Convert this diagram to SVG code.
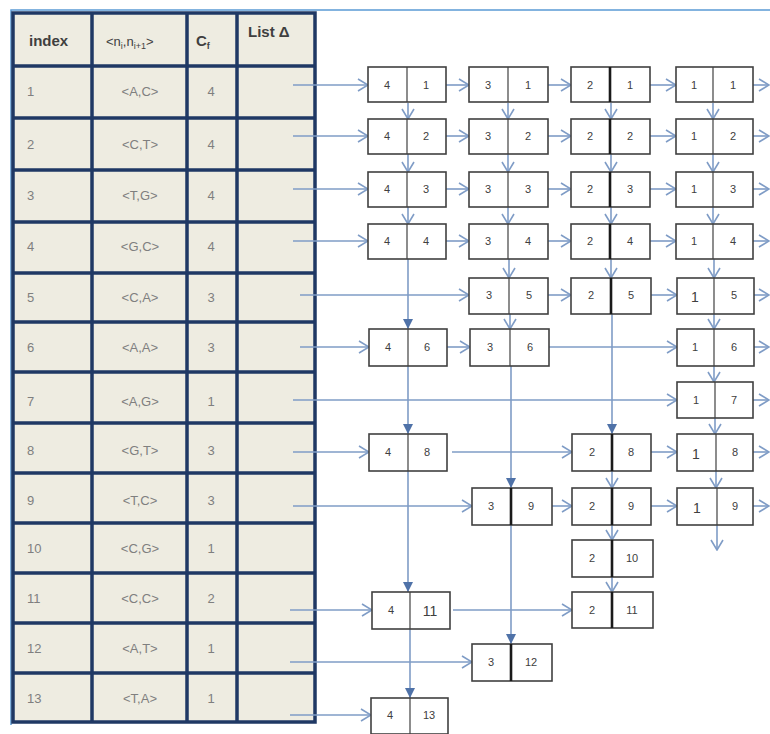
<svg xmlns="http://www.w3.org/2000/svg" width="770" height="734" viewBox="0 0 770 734">
<style>
.cell{fill:#eeece1;}
.grid{stroke:#1f3864;stroke-width:3.5;fill:none;}
.frame{stroke:#5b9bd5;stroke-width:1.5;fill:none;}
.hd{font-family:"Liberation Sans",Arial,sans-serif;font-size:15px;font-weight:bold;fill:#3f3f3f;}
.tx{font-family:"Liberation Sans",Arial,sans-serif;font-size:13px;fill:#7f7f7f;}
.bx{fill:#ffffff;stroke:#404040;stroke-width:1.6;}
.dv{stroke:#404040;stroke-width:1.2;}
.dvk{stroke:#1a1a1a;stroke-width:2.6;}
.bt{font-family:"Liberation Sans",Arial,sans-serif;font-size:11px;fill:#404040;text-anchor:middle;}
.bb{font-family:"Liberation Sans",Arial,sans-serif;font-size:14px;fill:#404040;text-anchor:middle;}
.c{stroke:#7f9cc6;stroke-width:1.6;fill:none;}
.o{marker-end:url(#ao);}
.f{marker-end:url(#af);}
</style>
<defs>
<marker id="ao" viewBox="0 0 12 14" refX="11" refY="7" markerWidth="12" markerHeight="14" markerUnits="userSpaceOnUse" orient="auto">
<path d="M1,1 L11,7 L1,13" fill="none" stroke="#7f9cc6" stroke-width="1.6"/>
</marker>
<marker id="af" viewBox="0 0 10 10" refX="10" refY="5" markerWidth="10" markerHeight="10" markerUnits="userSpaceOnUse" orient="auto">
<path d="M0,0 L10,5 L0,10 Z" fill="#4f72a8"/>
</marker>
</defs>
<rect width="770" height="734" fill="#ffffff"/>
<path class="frame" d="M11,725 L11,10 L770,10"/>
<g id="table">
<rect class="cell" x="13" y="13" width="302" height="709"/>
<g class="grid">
<rect x="13" y="13" width="302" height="709"/>
<path d="M92,13V722M187,13V722M237,13V722"/>
<path d="M13,66H315M13,118H315M13,170H315M13,222H315M13,273H315M13,322H315M13,372H315M13,423H315M13,473H315M13,523H315M13,573H315M13,623H315M13,673H315"/>
</g>
<g id="header">
<text class="hd" x="29" y="46">index</text>
<text class="hd" x="106" y="46" style="font-size:13px;font-weight:normal;fill:#3f3f3f">&lt;n<tspan dy="3" font-size="9">i</tspan><tspan dy="-3">,n</tspan><tspan dy="3" font-size="9">i+1</tspan><tspan dy="-3">&gt;</tspan></text>
<text class="hd" x="196" y="46">C<tspan dy="3" font-size="9">f</tspan></text>
<text class="hd" x="248" y="37">List Δ</text>
</g>
<g id="row1"><text class="tx" x="27" y="96">1</text><text class="tx" x="140" y="96" text-anchor="middle">&lt;A,C&gt;</text><text class="tx" x="211" y="96" text-anchor="middle">4</text></g>
<g id="row2"><text class="tx" x="27" y="149">2</text><text class="tx" x="140" y="149" text-anchor="middle">&lt;C,T&gt;</text><text class="tx" x="211" y="149" text-anchor="middle">4</text></g>
<g id="row3"><text class="tx" x="27" y="200">3</text><text class="tx" x="140" y="200" text-anchor="middle">&lt;T,G&gt;</text><text class="tx" x="211" y="200" text-anchor="middle">4</text></g>
<g id="row4"><text class="tx" x="27" y="251">4</text><text class="tx" x="140" y="251" text-anchor="middle">&lt;G,C&gt;</text><text class="tx" x="211" y="251" text-anchor="middle">4</text></g>
<g id="row5"><text class="tx" x="27" y="302">5</text><text class="tx" x="140" y="302" text-anchor="middle">&lt;C,A&gt;</text><text class="tx" x="211" y="302" text-anchor="middle">3</text></g>
<g id="row6"><text class="tx" x="27" y="352">6</text><text class="tx" x="140" y="352" text-anchor="middle">&lt;A,A&gt;</text><text class="tx" x="211" y="352" text-anchor="middle">3</text></g>
<g id="row7"><text class="tx" x="27" y="406">7</text><text class="tx" x="140" y="406" text-anchor="middle">&lt;A,G&gt;</text><text class="tx" x="211" y="406" text-anchor="middle">1</text></g>
<g id="row8"><text class="tx" x="27" y="455">8</text><text class="tx" x="140" y="455" text-anchor="middle">&lt;G,T&gt;</text><text class="tx" x="211" y="455" text-anchor="middle">3</text></g>
<g id="row9"><text class="tx" x="27" y="505">9</text><text class="tx" x="140" y="505" text-anchor="middle">&lt;T,C&gt;</text><text class="tx" x="211" y="505" text-anchor="middle">3</text></g>
<g id="row10"><text class="tx" x="27" y="553">10</text><text class="tx" x="140" y="553" text-anchor="middle">&lt;C,G&gt;</text><text class="tx" x="211" y="553" text-anchor="middle">1</text></g>
<g id="row11"><text class="tx" x="27" y="603">11</text><text class="tx" x="140" y="603" text-anchor="middle">&lt;C,C&gt;</text><text class="tx" x="211" y="603" text-anchor="middle">2</text></g>
<g id="row12"><text class="tx" x="27" y="653">12</text><text class="tx" x="140" y="653" text-anchor="middle">&lt;A,T&gt;</text><text class="tx" x="211" y="653" text-anchor="middle">1</text></g>
<g id="row13"><text class="tx" x="27" y="703">13</text><text class="tx" x="140" y="703" text-anchor="middle">&lt;T,A&gt;</text><text class="tx" x="211" y="703" text-anchor="middle">1</text></g>
</g>
<g id="connectors">
<path class="c o" d="M293,85H368"/>
<path class="c o" d="M293,136H368"/>
<path class="c o" d="M293,189H368"/>
<path class="c o" d="M293,241H368"/>
<path class="c o" d="M300,295H469"/>
<path class="c o" d="M300,347H369"/>
<path class="c o" d="M293,400H677"/>
<path class="c o" d="M293,452H369"/>
<path class="c o" d="M293,506H472"/>
<path class="c o" d="M290,610H372"/>
<path class="c o" d="M290,662H472"/>
<path class="c o" d="M290,715H371"/>
<path class="c o" d="M446,85H469"/><path class="c o" d="M548,85H571"/><path class="c o" d="M650,85H676"/><path class="c o" d="M753,85H769"/>
<path class="c o" d="M446,136H469"/><path class="c o" d="M548,136H571"/><path class="c o" d="M650,136H676"/><path class="c o" d="M753,136H769"/>
<path class="c o" d="M446,189H469"/><path class="c o" d="M548,189H571"/><path class="c o" d="M650,189H676"/><path class="c o" d="M753,189H769"/>
<path class="c o" d="M446,241H469"/><path class="c o" d="M548,241H571"/><path class="c o" d="M650,241H676"/><path class="c o" d="M753,241H769"/>
<path class="c o" d="M548,295H571"/><path class="c o" d="M651,295H677"/><path class="c o" d="M754,295H769"/>
<path class="c o" d="M447,347H470"/><path class="c o" d="M549,347H677"/><path class="c o" d="M754,347H769"/>
<path class="c o" d="M753,400H769"/>
<path class="c o" d="M452,452H572"/><path class="c o" d="M651,452H677"/><path class="c o" d="M753,452H769"/>
<path class="c o" d="M552,506H572"/><path class="c o" d="M651,506H677"/><path class="c o" d="M753,506H769"/>
<path class="c o" d="M453,610H572"/>
<path class="c o" d="M408,103V119"/><path class="c o" d="M408,154V172"/><path class="c o" d="M408,207V224"/>
<path class="c f" d="M408,259V329"/><path class="c f" d="M408,366V434"/><path class="c f" d="M408,471V592"/><path class="c f" d="M410,628V698"/>
<path class="c o" d="M508,103V119"/><path class="c o" d="M508,154V172"/><path class="c o" d="M508,207V224"/><path class="c o" d="M509,259V278"/><path class="c o" d="M510,314V329"/>
<path class="c f" d="M511,366V488"/><path class="c f" d="M511,525V644"/>
<path class="c o" d="M611,103V119"/><path class="c o" d="M611,154V172"/><path class="c o" d="M611,207V224"/><path class="c o" d="M611,259V278"/>
<path class="c f" d="M612,314V434"/><path class="c o" d="M612,471V488"/><path class="c o" d="M612,525V540"/><path class="c o" d="M612,577V592"/>
<path class="c o" d="M713,103V119"/><path class="c o" d="M713,154V172"/><path class="c o" d="M713,207V224"/><path class="c o" d="M714,259V278"/><path class="c o" d="M714,314V329"/><path class="c o" d="M714,366V382"/><path class="c o" d="M715,418V434"/><path class="c o" d="M716,471V488"/><path class="c o" d="M717,525V550"/>
</g>
<g id="n4_1"><rect class="bx" x="368" y="67" width="78" height="35"/><line class="dv" x1="407" y1="67" x2="407" y2="102"/><text class="bt" x="387" y="89">4</text><text class="bt" x="426" y="89">1</text></g>
<g id="n3_1"><rect class="bx" x="469" y="67" width="79" height="35"/><line class="dv" x1="508" y1="67" x2="508" y2="102"/><text class="bt" x="488" y="89">3</text><text class="bt" x="528" y="89">1</text></g>
<g id="n2_1"><rect class="bx" x="571" y="67" width="79" height="35"/><line class="dvk" x1="610" y1="67" x2="610" y2="102"/><text class="bt" x="590" y="89">2</text><text class="bt" x="630" y="89">1</text></g>
<g id="n1_1"><rect class="bx" x="676" y="67" width="77" height="35"/><line class="dv" x1="713" y1="67" x2="713" y2="102"/><text class="bt" x="694" y="89">1</text><text class="bt" x="733" y="89">1</text></g>
<g id="n4_2"><rect class="bx" x="368" y="119" width="78" height="35"/><line class="dv" x1="407" y1="119" x2="407" y2="154"/><text class="bt" x="387" y="140">4</text><text class="bt" x="426" y="140">2</text></g>
<g id="n3_2"><rect class="bx" x="469" y="119" width="79" height="35"/><line class="dv" x1="508" y1="119" x2="508" y2="154"/><text class="bt" x="488" y="140">3</text><text class="bt" x="528" y="140">2</text></g>
<g id="n2_2"><rect class="bx" x="571" y="119" width="79" height="35"/><line class="dvk" x1="610" y1="119" x2="610" y2="154"/><text class="bt" x="590" y="140">2</text><text class="bt" x="630" y="140">2</text></g>
<g id="n1_2"><rect class="bx" x="676" y="119" width="77" height="35"/><line class="dv" x1="713" y1="119" x2="713" y2="154"/><text class="bt" x="694" y="140">1</text><text class="bt" x="733" y="140">2</text></g>
<g id="n4_3"><rect class="bx" x="368" y="172" width="78" height="35"/><line class="dv" x1="407" y1="172" x2="407" y2="207"/><text class="bt" x="387" y="193">4</text><text class="bt" x="426" y="193">3</text></g>
<g id="n3_3"><rect class="bx" x="469" y="172" width="79" height="35"/><line class="dv" x1="508" y1="172" x2="508" y2="207"/><text class="bt" x="488" y="193">3</text><text class="bt" x="528" y="193">3</text></g>
<g id="n2_3"><rect class="bx" x="571" y="172" width="79" height="35"/><line class="dvk" x1="610" y1="172" x2="610" y2="207"/><text class="bt" x="590" y="193">2</text><text class="bt" x="630" y="193">3</text></g>
<g id="n1_3"><rect class="bx" x="676" y="172" width="77" height="35"/><line class="dv" x1="713" y1="172" x2="713" y2="207"/><text class="bt" x="694" y="193">1</text><text class="bt" x="733" y="193">3</text></g>
<g id="n4_4"><rect class="bx" x="368" y="224" width="78" height="35"/><line class="dv" x1="407" y1="224" x2="407" y2="259"/><text class="bt" x="387" y="245">4</text><text class="bt" x="426" y="245">4</text></g>
<g id="n3_4"><rect class="bx" x="469" y="224" width="79" height="35"/><line class="dv" x1="508" y1="224" x2="508" y2="259"/><text class="bt" x="488" y="245">3</text><text class="bt" x="528" y="245">4</text></g>
<g id="n2_4"><rect class="bx" x="571" y="224" width="79" height="35"/><line class="dvk" x1="610" y1="224" x2="610" y2="259"/><text class="bt" x="590" y="245">2</text><text class="bt" x="630" y="245">4</text></g>
<g id="n1_4"><rect class="bx" x="676" y="224" width="77" height="35"/><line class="dv" x1="713" y1="224" x2="713" y2="259"/><text class="bt" x="694" y="245">1</text><text class="bt" x="733" y="245">4</text></g>
<g id="n3_5"><rect class="bx" x="469" y="278" width="79" height="36"/><line class="dv" x1="509" y1="278" x2="509" y2="314"/><text class="bt" x="489" y="299">3</text><text class="bt" x="529" y="299">5</text></g>
<g id="n2_5"><rect class="bx" x="571" y="278" width="80" height="36"/><line class="dvk" x1="611" y1="278" x2="611" y2="314"/><text class="bt" x="591" y="299">2</text><text class="bt" x="631" y="299">5</text></g>
<g id="n1_5"><rect class="bx" x="677" y="278" width="77" height="36"/><line class="dv" x1="714" y1="278" x2="714" y2="314"/><text class="bb" x="695" y="302">1</text><text class="bt" x="734" y="299">5</text></g>
<g id="n4_6"><rect class="bx" x="369" y="329" width="78" height="37"/><line class="dv" x1="408" y1="329" x2="408" y2="366"/><text class="bt" x="388" y="351">4</text><text class="bt" x="427" y="351">6</text></g>
<g id="n3_6"><rect class="bx" x="470" y="329" width="79" height="37"/><line class="dv" x1="510" y1="329" x2="510" y2="366"/><text class="bt" x="490" y="351">3</text><text class="bt" x="530" y="351">6</text></g>
<g id="n1_6"><rect class="bx" x="677" y="329" width="77" height="37"/><line class="dv" x1="714" y1="329" x2="714" y2="366"/><text class="bt" x="695" y="351">1</text><text class="bt" x="734" y="351">6</text></g>
<g id="n1_7"><rect class="bx" x="677" y="382" width="76" height="36"/><line class="dv" x1="715" y1="382" x2="715" y2="418"/><text class="bt" x="696" y="404">1</text><text class="bt" x="734" y="404">7</text></g>
<g id="n4_8"><rect class="bx" x="369" y="434" width="78" height="37"/><line class="dv" x1="408" y1="434" x2="408" y2="471"/><text class="bt" x="388" y="456">4</text><text class="bt" x="427" y="456">8</text></g>
<g id="n2_8"><rect class="bx" x="572" y="434" width="79" height="37"/><line class="dvk" x1="612" y1="434" x2="612" y2="471"/><text class="bt" x="592" y="456">2</text><text class="bt" x="631" y="456">8</text></g>
<g id="n1_8"><rect class="bx" x="677" y="434" width="76" height="37"/><line class="dv" x1="716" y1="434" x2="716" y2="471"/><text class="bb" x="696" y="459">1</text><text class="bt" x="735" y="456">8</text></g>
<g id="n3_9"><rect class="bx" x="472" y="488" width="80" height="37"/><line class="dvk" x1="511" y1="488" x2="511" y2="525"/><text class="bt" x="491" y="510">3</text><text class="bt" x="531" y="510">9</text></g>
<g id="n2_9"><rect class="bx" x="572" y="488" width="79" height="37"/><line class="dvk" x1="612" y1="488" x2="612" y2="525"/><text class="bt" x="592" y="510">2</text><text class="bt" x="631" y="510">9</text></g>
<g id="n1_9"><rect class="bx" x="677" y="488" width="76" height="37"/><line class="dv" x1="717" y1="488" x2="717" y2="525"/><text class="bb" x="697" y="513">1</text><text class="bt" x="735" y="510">9</text></g>
<g id="n2_10"><rect class="bx" x="572" y="540" width="81" height="37"/><line class="dvk" x1="612" y1="540" x2="612" y2="577"/><text class="bt" x="592" y="562">2</text><text class="bt" x="632" y="562">10</text></g>
<g id="n4_11"><rect class="bx" x="372" y="592" width="78" height="37"/><line class="dv" x1="410" y1="592" x2="410" y2="629"/><text class="bt" x="391" y="614">4</text><text class="bb" x="430" y="616">11</text></g>
<g id="n2_11"><rect class="bx" x="572" y="592" width="81" height="36"/><line class="dvk" x1="612" y1="592" x2="612" y2="628"/><text class="bt" x="592" y="614">2</text><text class="bt" x="632" y="614">11</text></g>
<g id="n3_12"><rect class="bx" x="472" y="644" width="80" height="37"/><line class="dvk" x1="511" y1="644" x2="511" y2="681"/><text class="bt" x="491" y="666">3</text><text class="bt" x="531" y="666">12</text></g>
<g id="n4_13"><rect class="bx" x="371" y="698" width="77" height="36"/><line class="dv" x1="410" y1="698" x2="410" y2="734"/><text class="bt" x="390" y="719">4</text><text class="bt" x="429" y="719">13</text></g>
</svg>
